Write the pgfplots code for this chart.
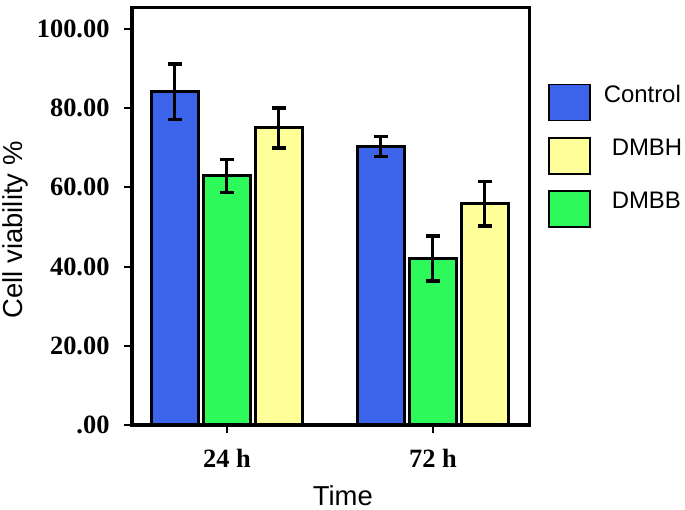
\documentclass[border=0pt]{standalone}
\usepackage{pgfplots}
\pgfplotsset{compat=1.18}
\usepackage{fontspec}
\setmainfont{Liberation Serif}
\setsansfont{Liberation Sans}
\definecolor{cblue}{RGB}{60,100,235}
\definecolor{cgreen}{RGB}{45,250,90}
\definecolor{cyellow}{RGB}{255,255,153}
\begin{document}
\begin{tikzpicture}
\useasboundingbox (0,0) rectangle (685bp,510bp);
\begin{axis}[
  at={(132bp,85bp)}, anchor=south west,
  scale only axis, width=397bp, height=417bp,
  xmin=-0.461, xmax=1.466, ymin=0, ymax=105.3,
  axis line style={line width=3bp},
  xtick={0,1}, xticklabels={24 h,72 h},
  ytick={0,20,40,60,80,100},
  yticklabels={.00,20.00,40.00,60.00,80.00,100.00},
  xtick pos=bottom, ytick pos=left,
  tick align=outside, major tick length=8bp,
  tick style={line width=2bp, black},
  ticklabel style={font=\bfseries\fontsize{26.5}{26.5}\selectfont},
  xticklabel style={yshift=-13bp},
  yticklabel style={xshift=-11bp},
  ylabel={Cell viability \%}, xlabel={Time},
  label style={font=\sffamily\fontsize{27.5}{27.5}\selectfont},
  ylabel style={at={(axis description cs:-0.293,0.468)}, anchor=center},
  xlabel style={at={(axis description cs:0.531,-0.170)}, anchor=center},
  ybar, bar width=47bp,
  error bars/y dir=both, error bars/y explicit,
  error bars/error bar style={line width=3bp, black},
  error bars/error mark options={rotate=90, mark size=7bp, line width=3.5bp, black},
  legend image code/.code={\draw[#1, line width=1.5bp] (0bp,-26bp) rectangle (41bp,10bp);},
  legend style={at={(axis description cs:1.048,0.820)}, anchor=north west,
    draw=none, fill=none, inner sep=0pt, row sep=15.5bp, column sep=11bp,
    font=\sffamily\fontsize{24}{24}\selectfont},
  legend cell align=left,
]
\addplot[fill=cblue, draw=black, line width=3bp, bar shift=-52bp, forget plot,
  error bars/y dir=both, error bars/y explicit] coordinates {(0,84.2) +- (0,7.0) (1,70.3) +- (0,2.5)};
\addplot[fill=cgreen, draw=black, line width=3bp, bar shift=0bp, forget plot,
  error bars/y dir=both, error bars/y explicit] coordinates {(0,62.9) +- (0,4.2) (1,42.0) +- (0,5.7)};
\addplot[fill=cyellow, draw=black, line width=3bp, bar shift=52bp, forget plot,
  error bars/y dir=both, error bars/y explicit] coordinates {(0,75.0) +- (0,5.0) (1,55.9) +- (0,5.6)};
\addlegendimage{fill=cblue, draw=black}\addlegendentry{Control}
\addlegendimage{fill=cyellow, draw=black}\addlegendentry{\hspace*{8bp}DMBH}
\addlegendimage{fill=cgreen, draw=black}\addlegendentry{\hspace*{8bp}DMBB}
\node[anchor=base west, inner sep=0pt, font=\sffamily\fontsize{24}{24}\selectfont] at (axis description cs:1.0824,0.9153) {groups};
\end{axis}
\end{tikzpicture}
\end{document}
